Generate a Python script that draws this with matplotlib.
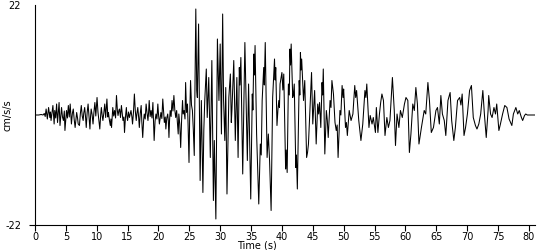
#!/usr/bin/env python3
"""Strong-motion accelerogram: acceleration trace vs time."""

import matplotlib

matplotlib.use("Agg")
import matplotlib.pyplot as plt

# Peaks, split into three windows (time in s, accel in cm/s/s)
t_early = [
    0.0, 0.6, 1.0, 1.3, 1.5, 1.65, 1.8, 2.0, 2.2, 2.4, 2.5, 2.6, 2.75, 2.9, 3.1,
    3.2, 3.35, 3.5, 3.65, 3.9, 4.05, 4.3, 4.45, 4.6, 4.75, 4.85, 5.1, 5.25, 5.4, 5.55,
    5.7, 5.9, 6.05, 6.2, 6.35, 6.5, 6.75, 6.9, 7.0, 7.2, 7.35, 7.5, 7.65, 7.8, 7.9,
    8.05, 8.2, 8.3, 8.45, 8.6, 8.75, 8.9, 9.0, 9.1, 9.25, 9.4, 9.55, 9.7, 9.85, 10.05,
    10.2, 10.3, 10.5, 10.65, 10.75, 10.9, 11.0, 11.15, 11.3, 11.45, 11.65, 11.8, 11.9, 12.05, 12.2,
    12.3, 12.4, 12.6, 12.75, 12.9, 13.05, 13.2, 13.35, 13.45, 13.6, 13.7, 13.85, 14.0, 14.15, 14.25,
    14.4, 14.5, 14.65, 14.8, 14.9, 15.0, 15.15, 15.3, 15.45, 15.55, 15.7, 15.8, 15.95, 16.1, 16.25,
    16.4, 16.5, 16.65, 16.8, 16.9, 17.05, 17.2, 17.3, 17.45, 17.6, 17.7, 17.85, 18.0, 18.15, 18.3,
    18.4, 18.5, 18.65, 18.8, 18.95, 19.1, 19.2, 19.3, 19.45, 19.6, 19.75, 19.9, 20.0, 20.15, 20.3,
    20.4, 20.55, 20.7, 20.85, 20.95, 21.1, 21.2, 21.35, 21.5, 21.6, 21.7, 21.8, 21.9, 22.05, 22.2,
    22.35, 22.5, 22.65,
]
acc_early = [
    0.0, 0.0, 0.1, 0.0, 0.3, -0.3, 1.2, -0.8, 1.5, -0.5, 0.6, -1.1, 0.4, 1.9, -1.8,
    0.9, -0.6, 2.2, -1.5, 2.5, -2.1, 1.5, -0.4, -1.1, 0.8, -3.1, 0.9, -0.6, 1.9, -0.4,
    2.2, -1.8, 0.3, 1.2, -0.9, -2.5, 0.5, -0.7, -1.8, -2.1, 0.3, 1.9, -0.2, -1.1, 0.4,
    1.5, -0.6, -2.5, 0.5, 2.2, -0.4, -2.8, -0.3, 1.2, 0.1, -1.8, 0.6, 2.5, -0.2, 3.5,
    0.6, -0.5, -2.8, 0.2, 1.5, -0.3, -1.1, 0.4, 2.2, -0.5, 3.2, -0.4, 0.5, -1.0, -2.1,
    -0.8, -2.5, 1.5, -0.2, 0.9, -0.6, 3.9, 0.8, -0.1, 1.0, 1.2, -0.5, 1.9, 0.2, -1.1,
    -0.4, -3.5, -0.5, 1.5, -0.3, -1.1, 0.6, -0.5, 0.3, 0.9, -0.4, -1.8, 0.5, 4.2, 0.8,
    -1.1, 0.2, 1.5, -0.6, -2.5, 0.3, 1.9, -1.2, -4.5, -1.0, 0.2, -0.8, 2.2, 0.4, -1.1,
    0.5, 2.9, -0.3, 0.9, -0.6, 2.5, -1.5, -5.1, -1.2, 0.2, -0.8, 2.2, 0.3, -1.8, -0.5,
    0.5, -0.7, 3.2, 0.4, -1.5, -0.4, -2.8, -0.6, 0.2, -1.2, -4.5, -1.0, 0.9, -0.3, 2.9,
    0.8, 3.9, 1.0,
]

t_strong = [
    22.8, 22.95, 23.05, 23.2, 23.3, 23.45, 23.6, 23.75, 23.9, 24.0, 24.15, 24.3, 24.4, 24.55, 24.7,
    24.8, 24.95, 25.05, 25.2, 25.35, 25.5, 25.65, 25.8, 26.05, 26.2, 26.3, 26.5, 26.75, 26.95, 27.2,
    27.35, 27.5, 27.75, 27.9, 28.15, 28.4, 28.65, 28.9, 29.05, 29.3, 29.55, 29.8, 30.0, 30.2, 30.4,
    30.55, 30.75, 30.9, 31.1, 31.4, 31.65, 31.8, 31.9, 32.2, 32.45, 32.7, 32.9, 33.1, 33.2, 33.35,
    33.65, 34.0, 34.2, 34.4, 34.6, 34.95, 35.2, 35.3, 35.45, 35.55, 35.65, 35.9, 36.25, 36.5, 36.65,
    36.8, 37.05, 37.15, 37.3, 37.6, 37.8, 38.0, 38.25, 38.5, 38.8, 38.9, 39.0, 39.2, 39.35, 39.5,
    39.6, 39.7, 40.0, 40.15, 40.3, 40.6, 40.7, 40.85, 41.05, 41.2, 41.3, 41.4, 41.5, 41.75, 41.85,
    42.0, 42.25, 42.35, 42.5, 42.8, 42.9, 43.0, 43.1, 43.2, 43.5, 43.7, 44.0, 44.15, 44.3, 44.6,
    44.8, 45.0, 45.3, 45.55, 45.8, 45.95,
]
acc_strong = [
    -0.5, 0.9, -1.2, -3.8, 0.2, -1.8, -6.5, -1.0, 2.9, 0.2, 0.9, -0.8, 6.5, 0.5, 2.2,
    -2.0, -9.5, -1.0, 6.9, 2.0, 0.9, -3.0, -8.1, 21.2, 5.0, 3.5, 18.2, -13.1, 2.9, -15.5,
    -3.0, 2.9, 9.2, -0.5, 7.5, -8.5, 10.9, -17.1, -5.1, -20.8, 15.2, 2.9, 14.2, -3.8, 20.2,
    2.9, -5.1, 5.5, -15.8, 3.5, 8.2, -1.5, 0.9, 10.9, -5.1, 7.5, -8.5, 9.5, 6.0, 11.5,
    -11.8, 14.5, 2.9, -9.1, 6.2, -16.8, 4.2, 1.0, 12.2, 8.0, 13.9, -3.8, -17.8, -5.8, -8.0,
    2.9, 9.5, 6.0, 14.5, -8.5, -3.8, -9.1, -19.1, 3.5, 11.2, 7.0, 9.5, -2.1, 1.0, 2.9,
    1.5, 6.2, 8.5, 5.0, 8.2, -10.8, -7.0, -11.5, 6.2, 4.0, 13.2, 10.0, 14.2, 3.5, 4.0,
    6.2, -10.5, -8.0, -14.8, 6.9, 4.0, 12.5, 9.0, 11.2, 2.9, 6.9, -8.5, -7.5, -5.8, 2.9,
    8.5, -1.8, 4.9, -5.8, 2.2, 0.2,
]

t_coda = [
    46.1, 46.3, 46.5, 46.6, 46.7, 46.95, 47.2, 47.35, 47.5, 47.8, 47.95, 48.1, 48.35, 48.6, 48.8,
    48.95, 49.1, 49.4, 49.55, 49.75, 49.9, 50.0, 50.3, 50.45, 50.6, 50.9, 51.2, 51.5, 51.8, 51.95,
    52.1, 52.45, 52.8, 53.1, 53.45, 53.6, 53.75, 54.1, 54.3, 54.6, 54.8, 55.15, 55.3, 55.55, 55.8,
    56.0, 56.2, 56.45, 56.7, 57.0, 57.25, 57.5, 57.9, 58.2, 58.4, 58.65, 58.95, 59.2, 59.5, 59.85,
    60.1, 60.4, 60.65, 60.9, 61.2, 61.45, 61.7, 61.95, 62.2, 62.6, 63.05, 63.3, 63.65, 63.9, 64.2,
    64.55, 64.95, 65.2, 65.5, 65.75, 66.0, 66.3, 66.55, 66.9, 67.25, 67.5, 67.85, 68.1, 68.45, 68.8,
    69.0, 69.2, 69.5, 69.75, 70.05, 70.4, 70.7, 71.0, 71.35, 71.6, 71.9, 72.2, 72.55, 72.8, 73.1,
    73.4, 73.5, 73.8, 74.05, 74.35, 74.6, 74.8, 75.15, 75.4, 75.75, 76.1, 76.45, 76.8, 77.15, 77.25,
    77.5, 77.9, 78.2, 78.45, 78.8, 79.0, 79.3, 79.5, 79.75, 81.0,
]
acc_coda = [
    2.5, -2.5, 6.5, 4.0, 9.2, -7.8, 0.9, -1.0, -4.5, 2.9, 1.5, 6.9, 4.2, -1.5, -3.1,
    -2.0, -8.5, 0.9, 0.0, 5.9, 3.5, 5.2, -2.5, -1.5, -4.1, 0.9, -1.1, 0.2, 5.9, 3.5,
    4.9, -1.1, -5.1, -1.8, 4.9, 3.5, 6.2, -2.5, -0.1, -1.8, -0.5, -3.5, 1.5, -3.5, 0.2,
    2.5, 4.2, 2.9, -4.1, -0.5, -2.5, -1.1, 7.5, 0.9, -6.1, 0.2, -2.5, 0.9, -0.5, 2.2,
    3.5, 2.9, -7.5, -3.8, 2.2, 0.9, 5.5, 2.2, -5.8, -2.5, 0.9, 0.2, 6.5, 2.9, -3.5,
    -2.5, 0.9, 1.5, -1.8, 3.9, 0.2, -1.1, -4.1, 2.9, 4.5, -1.1, -5.1, -2.5, 2.9, 3.5,
    2.0, 4.2, -4.1, -2.5, 0.2, 4.9, 5.9, -0.5, -2.1, -2.8, -1.8, 0.2, 4.9, 0.2, -4.5,
    0.9, 3.9, 0.2, -0.5, 1.5, 0.2, 2.2, -3.1, -1.8, 0.2, 1.9, 1.5, -0.8, -1.8, -2.1,
    0.2, 1.5, 0.2, 0.9, -0.5, -1.1, -0.1, 0.2, 0.0, 0.0,
]

x_ticks = list(range(0, 81, 5))
y_ticks = [-22, 22]

for t, a in ((t_early, acc_early), (t_strong, acc_strong), (t_coda, acc_coda)):
    assert len(t) == len(a), (len(t), len(a))

time = t_early + t_strong + t_coda
accel = acc_early + acc_strong + acc_coda

fig = plt.figure(figsize=(5.5, 2.5), dpi=100)
ax = fig.add_axes([35 / 550, 25 / 250, 500 / 550, 220 / 250])

ax.plot(time, accel, color="black", linewidth=0.75)

ax.set_xlim(0, 81)
ax.set_ylim(-22, 22)
for side in ("top", "right"):
    ax.spines[side].set_visible(False)
for side in ("left", "bottom"):
    ax.spines[side].set_linewidth(0.8)

ax.set_xticks(x_ticks)
ax.set_yticks(y_ticks)
ax.set_yticklabels([str(v) for v in y_ticks])
ax.yaxis.get_major_ticks()[1].tick1line.set_visible(False)
ax.tick_params(axis="x", length=4, width=0.8, pad=1, labelsize=7)
ax.tick_params(axis="y", length=4, width=0.8, pad=6, labelsize=7)

ax.set_xlabel("Time (s)", fontsize=7)
ax.xaxis.set_label_coords(0.444, -0.07)
ax.set_ylabel("cm/s/s", fontsize=7)
ax.yaxis.set_label_coords(-0.045, 0.5)

fig.savefig("out.png", dpi=100)
